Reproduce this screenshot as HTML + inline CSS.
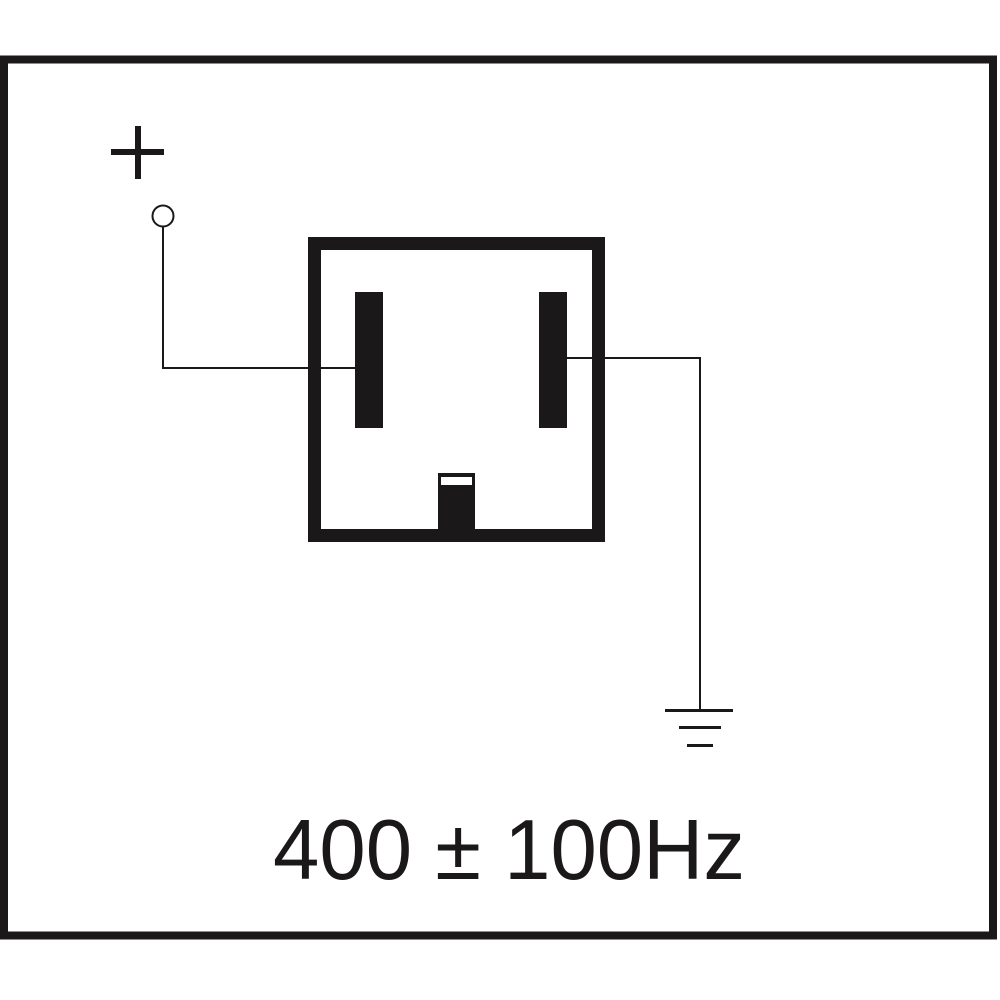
<!DOCTYPE html>
<html><head><style>html,body{margin:0;padding:0;background:#fff}svg{display:block}</style></head>
<body>
<svg width="1000" height="1000" viewBox="0 0 1000 1000" xmlns="http://www.w3.org/2000/svg">
<rect x="0" y="0" width="1000" height="1000" fill="#fff"/>
<!-- outer frame -->
<rect x="4" y="59.5" width="989" height="876" fill="none" stroke="#1a1818" stroke-width="8"/>
<!-- plus -->
<rect x="111" y="149" width="53" height="6" fill="#1a1818"/>
<rect x="135" y="126" width="6" height="53" fill="#1a1818"/>
<!-- terminal circle -->
<circle cx="163" cy="216" r="10.5" fill="#fff" stroke="#1a1818" stroke-width="2"/>
<polyline points="163,227 163,368 355,368" fill="none" stroke="#1a1818" stroke-width="2"/>
<!-- box -->
<rect x="314.5" y="243.5" width="284" height="292" fill="none" stroke="#1a1818" stroke-width="13"/>
<rect x="355" y="292" width="28" height="136" fill="#1a1818"/>
<rect x="539" y="292" width="28" height="136" fill="#1a1818"/>
<rect x="438" y="473" width="37" height="62" fill="#1a1818"/>
<rect x="441" y="477" width="31" height="8" fill="#fff"/>
<!-- right wire -->
<polyline points="567,358 700,358 700,711" fill="none" stroke="#1a1818" stroke-width="2"/>
<!-- ground -->
<rect x="665" y="709" width="68" height="3" fill="#1a1818"/>
<rect x="679" y="726" width="42" height="3" fill="#1a1818"/>
<rect x="687" y="744" width="26" height="3" fill="#1a1818"/>
<!-- label -->
<text x="273" y="879" font-family="Liberation Sans, sans-serif" font-size="85" fill="#1a1818" textLength="472" lengthAdjust="spacingAndGlyphs">400 ± 100Hz</text>
</svg>
</body></html>
